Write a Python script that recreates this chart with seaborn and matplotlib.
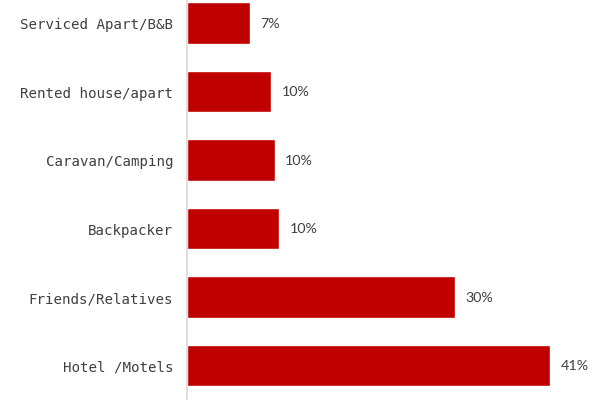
import matplotlib
matplotlib.use("Agg")
import matplotlib.pyplot as plt
import seaborn as sns
import pandas as pd

# Accommodation type share of visitor nights
categories = ["Serviced Apart/B&B", "Rented house/apart", "Caravan/Camping",
              "Backpacker", "Friends/Relatives", "Hotel/Motels"]
tick_labels = ["Serviced Apart/B&B", "Rented house/apart", "Caravan/Camping",
               "Backpacker", "Friends/Relatives", "Hotel /Motels"]
shares = [7.1, 9.5, 9.9, 10.4, 30.3, 41.0]

df = pd.DataFrame({"category": categories, "share": shares})

sns.set_theme(style="white")
fig = plt.figure(figsize=(5.97, 4.06), dpi=100)
ax = fig.add_axes([187 / 597, 6 / 406, 1 - 187 / 597, 400 / 406])

sns.barplot(data=df, x="share", y="category", orient="h", color="#C00000",
            saturation=1, width=0.61, ax=ax)

for patch, v in zip(ax.patches, shares):
    y = patch.get_y() + patch.get_height() / 2
    ax.annotate(f"{v:.0f}%", xy=(patch.get_width(), y), xytext=(7.5, 0),
                textcoords="offset points", va="center", ha="left",
                fontsize=10.3, family="Lato", color="#404040")

ax.set_xlim(0, 46.3)
ax.set_ylim(5.49, -0.35)
ax.set_yticks(range(len(categories)))
ax.set_yticklabels(tick_labels, family="DejaVu Sans Mono", fontsize=10.2,
                   color="#404040")
ax.tick_params(axis="y", length=0, pad=10)
ax.set_xticks([])
ax.set_xlabel("")
ax.set_ylabel("")
for side in ["top", "right", "bottom"]:
    ax.spines[side].set_visible(False)
ax.spines["left"].set_color("#D9D9D9")
ax.spines["left"].set_linewidth(1.2)

fig.savefig("out.png", dpi=100)
